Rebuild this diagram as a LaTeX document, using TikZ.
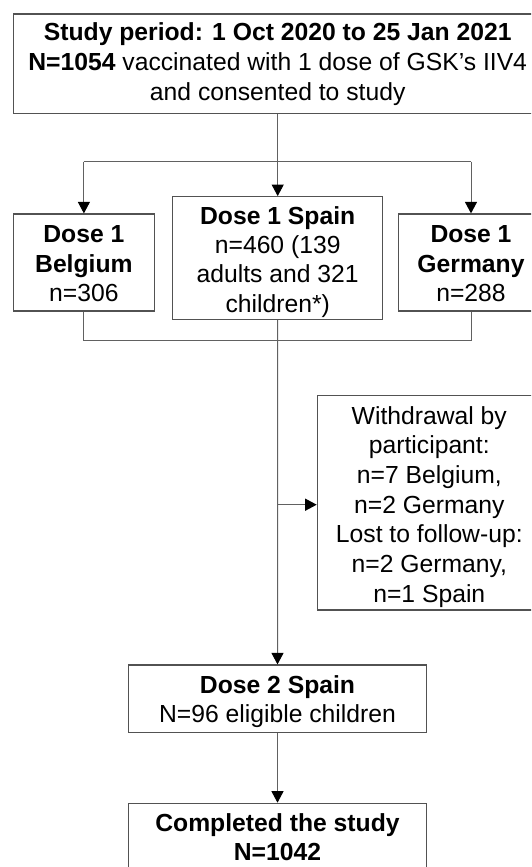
\documentclass[tikz,border=0pt]{standalone}
\usepackage{fontspec}
\setmainfont{Liberation Sans}
\usetikzlibrary{arrows.meta}
\tikzset{
  box/.style={draw=black!68, line width=1.2pt, inner sep=0pt},
  txt/.style={inner sep=0pt, align=center, text=black,
    font=\fontsize{24.7}{29.5}\selectfont},
  conn/.style={draw=black!62, line width=1pt},
  arr/.style={conn, -{Triangle[length=11.5pt,width=12pt,fill=black,color=black]}},
}
\begin{document}
\begin{tikzpicture}[x=1pt,y=-1pt]
\useasboundingbox (0,0) rectangle (531,867);
\clip (0,0) rectangle (531,867);
\fill[white] (0,0) rectangle (531,867);
% boxes
\node[box, minimum width=528.4pt, minimum height=99.3pt] (top) at (277.7,63.65) {};
\node[box, minimum width=140.5pt, minimum height=97pt] (belgium) at (83.9,262.5) {};
\node[box, minimum width=210pt, minimum height=122.6pt] (spain) at (277.7,258) {};
\node[box, minimum width=144.8pt, minimum height=97pt] (germany) at (471,262.5) {};
\node[box, minimum width=224pt, minimum height=214.3pt] (withdraw) at (429.3,502.85) {};
\node[box, minimum width=298.4pt, minimum height=67.7pt] (dose2) at (277.5,698.85) {};
\node[box, minimum width=298.4pt, minimum height=70pt] (final) at (277.5,838.3) {};
% texts
\node[txt, font=\fontsize{24.7}{30}\selectfont] (topT) at (top.center)
  {\textbf{Study period: 1 Oct 2020 to 25 Jan 2021}\\\textbf{N=1054} vaccinated with 1 dose of GSK’s IIV4\\and consented to study};
\node[txt, yshift=-1.6pt] (belgiumT) at (belgium.center) {\textbf{Dose 1}\\\textbf{Belgium}\\n=306};
\node[txt, yshift=-4pt, font=\fontsize{24.7}{29.1}\selectfont] (spainT) at (spain.center)
  {\textbf{Dose 1 Spain}\\n=460 (139\\adults and 321\\children*)};
\node[txt, yshift=-1.6pt] (germanyT) at (germany.center) {\textbf{Dose 1}\\\textbf{Germany}\\n=288};
\node[txt, yshift=-4pt, font=\fontsize{24.7}{29.7}\selectfont] (withdrawT) at (withdraw.center)
  {Withdrawal by\\participant:\\n=7 Belgium,\\n=2 Germany\\Lost to follow-up:\\n=2 Germany,\\n=1 Spain};
\node[txt, yshift=-2.8pt] (dose2T) at (dose2.center) {\textbf{Dose 2 Spain}\\N=96 eligible children};
\node[txt, yshift=1.3pt, font=\fontsize{24.7}{28.6}\selectfont] (finalT) at (final.center)
  {\textbf{Completed the study}\\\textbf{N=1042}};
% connectors
\coordinate (split) at (277.7,161.5);
\coordinate (merge) at (277.7,340.7);
\coordinate (side) at (277.7,504.7);
\draw[conn] (top.south) -- (split);
\draw[conn] (split -| belgium.north) -- (split -| germany.north);
\draw[arr] (split -| belgium.north) -- (belgium.north);
\draw[arr] (split) -- (spain.north);
\draw[arr] (split -| germany.north) -- (germany.north);
\draw[conn] (belgium.south) |- (merge) -| (germany.south);
\draw[arr] (spain.south) -- (dose2.north);
\draw[arr] (side) -- (side -| withdraw.west);
\draw[arr] (dose2.south) -- (final.north);
\end{tikzpicture}
\end{document}
